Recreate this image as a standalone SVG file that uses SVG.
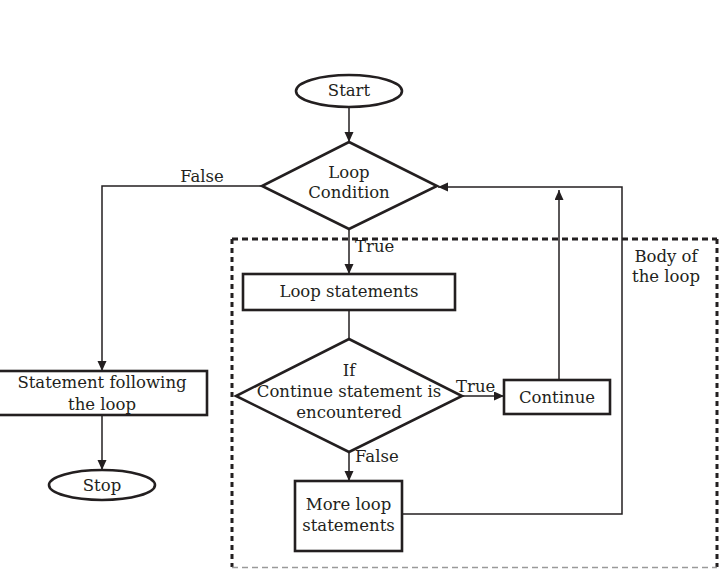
<svg xmlns="http://www.w3.org/2000/svg" width="724" height="569" viewBox="0 0 724 569">
<style>
text{font-family:"DejaVu Serif","Liberation Serif",serif;font-size:16.5px;fill:#231f20}
.c{text-anchor:middle}
.node{fill:#fff;stroke:#231f20;stroke-width:2.6}
.conn{fill:none;stroke:#231f20;stroke-width:1.5}
.dash{fill:none;stroke:#231f20;stroke-width:3;stroke-dasharray:6 4}
</style>
<defs>
<marker id="ah" markerUnits="userSpaceOnUse" markerWidth="11" markerHeight="10" refX="10" refY="4.5" orient="auto">
<path d="M0,0 L10,4.5 L0,9 z" fill="#231f20"/>
</marker>
</defs>
<rect width="724" height="569" fill="#fff"/>
<g id="body-of-loop">
<path class="dash" d="M232,239 H717"/>
<path class="dash" d="M232,239 V567 M717,239 V567" style="stroke-dasharray:5 4"/>
<path d="M232,567.5 H717" fill="none" stroke="#9a9a9a" stroke-width="1.5" stroke-dasharray="6 4"/>
<text class="c" x="666" y="262">Body of</text>
<text class="c" x="666" y="282">the loop</text>
</g>
<g id="connectors">
<path class="conn" d="M349,107 V142" marker-end="url(#ah)"/>
<path class="conn" d="M262,186 H102 V371" marker-end="url(#ah)"/>
<path class="conn" d="M349,229 V274" marker-end="url(#ah)"/>
<path class="conn" d="M349,310 V339"/>
<path class="conn" d="M463,396 H504" marker-end="url(#ah)"/>
<path class="conn" d="M559,380 V190" marker-end="url(#ah)"/>
<path class="conn" d="M349,452 V481" marker-end="url(#ah)"/>
<path class="conn" d="M402,514 H622 V187 H438" marker-end="url(#ah)"/>
<path class="conn" d="M102,415 V470" marker-end="url(#ah)"/>
<text class="c" x="202" y="182">False</text>
<text x="355" y="252">True</text>
<text x="456" y="392">True</text>
<text x="355" y="462">False</text>
</g>
<g id="start">
<ellipse class="node" cx="349" cy="91" rx="53" ry="16"/>
<text class="c" x="349" y="96">Start</text>
</g>
<g id="loop-condition">
<polygon class="node" points="349,142 437,186 349,229 262,186"/>
<text class="c" x="349" y="178">Loop</text>
<text class="c" x="349" y="198">Condition</text>
</g>
<g id="loop-statements">
<rect class="node" x="243" y="274" width="212" height="36"/>
<text class="c" x="349" y="297">Loop statements</text>
</g>
<g id="if-continue">
<polygon class="node" points="349,339 462,396 349,452 236,396"/>
<text class="c" x="349" y="376">If</text>
<text class="c" x="349" y="397">Continue statement is</text>
<text class="c" x="349" y="418">encountered</text>
</g>
<g id="continue">
<rect class="node" x="504" y="380" width="106" height="34"/>
<text class="c" x="557" y="403">Continue</text>
</g>
<g id="more-loop-statements">
<rect class="node" x="295" y="481" width="107" height="70"/>
<text class="c" x="348.5" y="510">More loop</text>
<text class="c" x="348.5" y="531">statements</text>
</g>
<g id="statement-following">
<rect class="node" x="-3" y="371" width="210" height="44"/>
<text class="c" x="102" y="388">Statement following</text>
<text class="c" x="102" y="410">the loop</text>
</g>
<g id="stop">
<ellipse class="node" cx="102" cy="485" rx="53" ry="15"/>
<text class="c" x="102" y="491">Stop</text>
</g>
</svg>
